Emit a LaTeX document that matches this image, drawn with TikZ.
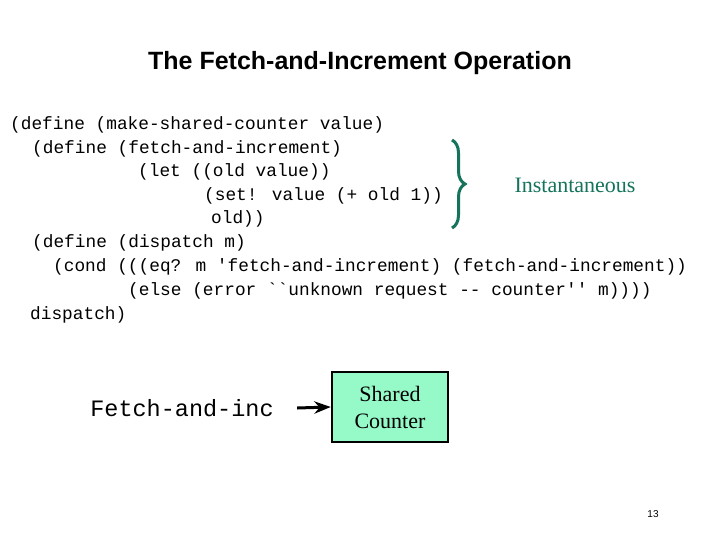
\documentclass[tikz,border=0pt]{standalone}
\usepackage{fontspec}
\setmainfont{Liberation Serif}
\newfontfamily\codefont{Liberation Mono}
\newfontfamily\arialfont{Liberation Sans}
\usetikzlibrary{arrows.meta, positioning, decorations.pathreplacing}
\definecolor{bracegreen}{RGB}{20,115,90}
\definecolor{boxgreen}{RGB}{150,250,200}

\begin{document}
\begin{tikzpicture}[x=1pt, y=-1pt, >=Stealth,
    code/.style={anchor=west, inner sep=0pt, font=\codefont\fontsize{17.8}{20}\selectfont}]
    \useasboundingbox (0,0) rectangle (720,540);
    % Title
    \node[font=\arialfont\bfseries\fontsize{25}{30}\selectfont] (title) at (360,63) {The Fetch-and-Increment Operation};
    % Code lines
    \node[code] (l1) at (10,125) {(define (make-shared-counter value)};
    \node[code] (l2) at (32,149) {(define (fetch-and-increment)};
    \node[code] (l3) at (138,172) {(let ((old value))};
    \node[code] (l4) at (204,196) {(set! value (+ old 1))};
    \node[code] (l5) at (211,219) {old))};
    \node[code] (l6) at (32,243) {(define (dispatch m)};
    \node[code] (l7) at (53,267) {(cond (((eq? m 'fetch-and-increment) (fetch-and-increment))};
    \node[code] (l8) at (128,291) {(else (error ``unknown request -- counter'' m))))};
    \node[code] (l9) at (30,315) {dispatch)};
    % Brace and note
    \coordinate (btop) at (452,140);
    \coordinate (bbot) at (452,228);
    \draw[bracegreen, line width=3pt, decorate, decoration={brace, amplitude=13pt}] (btop) -- (bbot);
    \node[text=bracegreen, font=\fontsize{22}{26}\selectfont] (inst) at (575,185) {Instantaneous};
    % Counter
    \node[font=\codefont\fontsize{23.5}{26}\selectfont] (op) at (182,408) {Fetch-and-inc};
    \node[draw, line width=2.5pt, fill=boxgreen, minimum width=116pt, minimum height=70pt,
          align=center, font=\fontsize{22}{27}\selectfont] (ctr) at (390,407) {Shared\\Counter};
    \draw[->, line width=3pt] (op.east) ++(20,0) coordinate (a0) (a0) -- (ctr.west);
    \node[font=\arialfont\fontsize{10}{12}\selectfont] (page) at (653,514) {13};
\end{tikzpicture}
\end{document}
